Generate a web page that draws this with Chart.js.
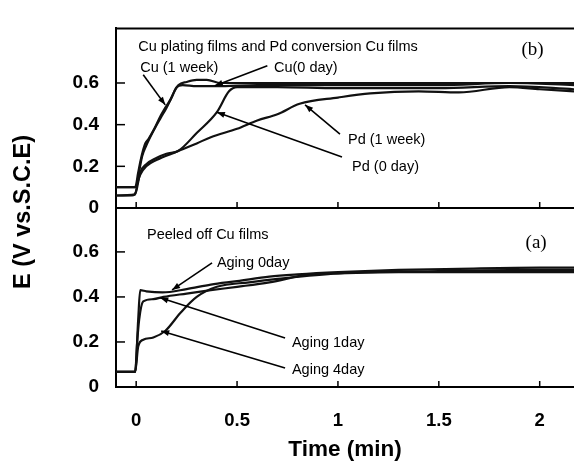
<!DOCTYPE html>
<html>
<head>
<meta charset="utf-8">
<script src="https://cdn.jsdelivr.net/npm/chart.js@4.4.0/dist/chart.umd.min.js"></script>
<style>
  html, body { margin: 0; padding: 0; background: #fff; }
  #wrap { position: relative; width: 574px; height: 462px; }
  #wrap canvas { position: absolute; left: 0; top: 0; }
</style>
</head>
<body>
<div id="wrap">
  <canvas id="panelB" width="574" height="462"></canvas>
  <canvas id="panelA" width="574" height="462"></canvas>
</div>
<script>
// axis ticks
const timeTicks = [0, 0.5, 1, 1.5, 2];
const eTicks = [0, 0.2, 0.4, 0.6];

// (b) Cu plating films and Pd conversion Cu films
const cuWeekT = [-0.1, -0.005, 0.01, 0.02, 0.035, 0.045, 0.06, 0.09, 0.12, 0.15, 0.17, 0.19, 0.21, 0.25, 0.3, 0.35, 0.42, 0.55, 0.8, 1.1, 1.5, 1.85, 2.17];
const cuWeekE = [0.10, 0.10, 0.17, 0.22, 0.28, 0.31, 0.33, 0.38, 0.44, 0.49, 0.52, 0.56, 0.59, 0.605, 0.615, 0.615, 0.60, 0.60, 0.60, 0.60, 0.60, 0.60, 0.60];
const cuDayT = [-0.1, -0.005, 0.01, 0.03, 0.05, 0.08, 0.12, 0.15, 0.18, 0.2, 0.23, 0.3, 0.4, 0.6, 1.0, 1.5, 1.85, 2.17];
const cuDayE = [0.06, 0.065, 0.15, 0.25, 0.30, 0.36, 0.43, 0.48, 0.54, 0.58, 0.59, 0.585, 0.585, 0.59, 0.59, 0.59, 0.60, 0.59];
const pdDayT = [-0.1, -0.02, 0.0, 0.02, 0.05, 0.1, 0.15, 0.21, 0.3, 0.4, 0.46, 0.5, 0.7, 1.0, 1.5, 1.85, 2.17];
const pdDayE = [0.06, 0.06, 0.08, 0.17, 0.21, 0.24, 0.26, 0.275, 0.36, 0.46, 0.56, 0.58, 0.58, 0.575, 0.575, 0.585, 0.57];
const pdWeekT = [-0.1, -0.005, 0.02, 0.05, 0.1, 0.2, 0.3, 0.37, 0.5, 0.6, 0.7, 0.81, 1.0, 1.16, 1.4, 1.6, 1.85, 2.0, 2.17];
const pdWeekE = [0.10, 0.10, 0.16, 0.20, 0.23, 0.27, 0.31, 0.34, 0.38, 0.42, 0.45, 0.50, 0.53, 0.55, 0.56, 0.555, 0.58, 0.57, 0.56];

// (a) Peeled off Cu films
const age0T = [-0.1, -0.005, 0.01, 0.02, 0.05, 0.13, 0.25, 0.37, 0.5, 0.66, 0.8, 1.0, 1.3, 1.6, 2.0, 2.17];
const age0E = [0.067, 0.067, 0.30, 0.43, 0.425, 0.42, 0.435, 0.455, 0.47, 0.49, 0.50, 0.51, 0.52, 0.525, 0.53, 0.53];
const age1T = [-0.1, -0.005, 0.005, 0.015, 0.035, 0.085, 0.135, 0.25, 0.37, 0.5, 0.66, 0.86, 1.0, 1.3, 1.6, 2.0, 2.17];
const age1E = [0.067, 0.067, 0.20, 0.30, 0.38, 0.39, 0.40, 0.415, 0.43, 0.445, 0.465, 0.50, 0.505, 0.51, 0.51, 0.51, 0.51];
const age4T = [-0.1, -0.005, 0.01, 0.035, 0.085, 0.145, 0.22, 0.3, 0.4, 0.56, 0.7, 1.0, 1.5, 2.0, 2.17];
const age4E = [0.067, 0.067, 0.18, 0.21, 0.22, 0.25, 0.33, 0.40, 0.445, 0.465, 0.48, 0.505, 0.515, 0.52, 0.52];

// labels with arrows, placed in data units (time, E)
const notesB = [
    { text: 'Cu plating films and Pd conversion Cu films', at: [0.01, 0.775] },
    { text: '(b)', at: [1.91, 0.76], serif: true },
    { text: 'Cu (1 week)', at: [0.02, 0.67], from: [0.035, 0.64], to: [0.144, 0.495] },
    { text: 'Cu(0 day)', at: [0.683, 0.67], from: [0.65, 0.683], to: [0.39, 0.587] },
    { text: 'Pd (1 week)', at: [1.05, 0.328], from: [1.01, 0.355], to: [0.837, 0.495] },
    { text: 'Pd (0 day)', at: [1.07, 0.197], from: [1.02, 0.245], to: [0.40, 0.46] }
];
const notesA = [
    { text: 'Peeled off Cu films', at: [0.054, 0.676] },
    { text: '(a)', at: [1.93, 0.64], serif: true },
    { text: 'Aging 0day', at: [0.40, 0.551], from: [0.376, 0.551], to: [0.178, 0.431] },
    { text: 'Aging 1day', at: [0.772, 0.196], from: [0.738, 0.218], to: [0.119, 0.396] },
    { text: 'Aging 4day', at: [0.772, 0.076], from: [0.738, 0.084], to: [0.124, 0.249] }
];

const yTitle = 'E (V vs.S.C.E)';

Chart.defaults.font.family = "'Liberation Sans', Arial, sans-serif";
Chart.defaults.color = '#000';

function series(ts, es) {
    return {
        data: ts.map((t, i) => ({ x: t, y: es[i] })),
        borderColor: '#111',
        borderWidth: 2.2,
        pointRadius: 0,
        fill: false,
        cubicInterpolationMode: 'monotone'
    };
}

const panelDecor = {
    id: 'panelDecor',
    afterDatasetsDraw(chart, args, opts) {
        const { ctx, chartArea: a, scales: { x, y } } = chart;
        const line = (x1, y1, x2, y2) => {
            ctx.beginPath();
            ctx.moveTo(x1, y1);
            ctx.lineTo(x2, y2);
            ctx.stroke();
        };
        ctx.save();
        ctx.strokeStyle = '#000';
        ctx.fillStyle = '#000';
        ctx.lineWidth = 1.5;
        // inward tick marks
        timeTicks.forEach(v => {
            const px = x.getPixelForValue(v);
            line(px, a.bottom, px, a.bottom - 6);
        });
        eTicks.forEach(v => {
            const py = y.getPixelForValue(v);
            line(a.left, py, a.left + 9, py);
        });
        if (opts.topLine) {
            ctx.lineWidth = 2;
            line(a.left, a.top, a.right, a.top);
        }
        // notes and arrows
        ctx.textBaseline = 'middle';
        opts.notes.forEach(n => {
            ctx.font = n.serif ? "19px 'Liberation Serif', serif" : "14.5px 'Liberation Sans', Arial, sans-serif";
            ctx.fillText(n.text, x.getPixelForValue(n.at[0]), y.getPixelForValue(n.at[1]));
            if (!n.from) return;
            const x1 = x.getPixelForValue(n.from[0]), y1 = y.getPixelForValue(n.from[1]);
            const x2 = x.getPixelForValue(n.to[0]), y2 = y.getPixelForValue(n.to[1]);
            ctx.lineWidth = 1.6;
            line(x1, y1, x2, y2);
            const ang = Math.atan2(y2 - y1, x2 - x1);
            ctx.beginPath();
            ctx.moveTo(x2, y2);
            ctx.lineTo(x2 - 8 * Math.cos(ang) + 3 * Math.sin(ang), y2 - 8 * Math.sin(ang) - 3 * Math.cos(ang));
            ctx.lineTo(x2 - 8 * Math.cos(ang) - 3 * Math.sin(ang), y2 - 8 * Math.sin(ang) + 3 * Math.cos(ang));
            ctx.closePath();
            ctx.fill();
        });
        if (opts.yTitle) {
            ctx.translate(24, 212);
            ctx.rotate(-Math.PI / 2);
            ctx.textAlign = 'center';
            ctx.font = "bold 23.5px 'Liberation Sans', Arial, sans-serif";
            ctx.fillText(opts.yTitle, 0, 0);
        }
        ctx.restore();
    }
};

function makePanel(canvasId, sets, yMax, padding, xHeight, showX, notes, extra) {
    return new Chart(document.getElementById(canvasId), {
        type: 'line',
        data: { datasets: sets },
        options: {
            responsive: false,
            animation: false,
            layout: { padding: padding },
            scales: {
                x: {
                    type: 'linear',
                    min: -0.1,
                    max: 2.17,
                    afterBuildTicks: s => { s.ticks = timeTicks.map(v => ({ value: v })); },
                    afterFit: s => { s.height = xHeight; },
                    grid: { drawOnChartArea: false, drawTicks: false },
                    border: { display: true, color: '#000', width: 2 },
                    ticks: {
                        display: showX,
                        padding: 23,
                        maxRotation: 0,
                        font: { size: 18.5, weight: 'bold' },
                        callback: v => String(v)
                    },
                    title: {
                        display: showX,
                        text: 'Time (min)',
                        font: { size: 22.5, weight: 'bold', lineHeight: 1 },
                        padding: { top: 0, bottom: 1 }
                    }
                },
                y: {
                    min: 0,
                    max: yMax,
                    afterBuildTicks: s => { s.ticks = eTicks.map(v => ({ value: v })); },
                    afterFit: s => { s.width = 116; },
                    grid: { drawOnChartArea: false, drawTicks: false },
                    border: { display: true, color: '#000', width: 2 },
                    ticks: {
                        padding: 17,
                        font: { size: 19, weight: 'bold' },
                        callback: v => String(v)
                    }
                }
            },
            plugins: {
                legend: { display: false },
                tooltip: { enabled: false },
                panelDecor: Object.assign({ notes: notes }, extra)
            }
        },
        plugins: [panelDecor]
    });
}

makePanel('panelB', [
    series(cuWeekT, cuWeekE),
    series(cuDayT, cuDayE),
    series(pdDayT, pdDayE),
    series(pdWeekT, pdWeekE)
], 0.862, { top: 11, bottom: 254, left: 0, right: 0 }, 0, false, notesB, { topLine: true });

makePanel('panelA', [
    series(age0T, age0E),
    series(age1T, age1E),
    series(age4T, age4E)
], 0.795, { top: 208, bottom: 0, left: 0, right: 0 }, 75, true, notesA, { yTitle: yTitle });
</script>
</body>
</html>
